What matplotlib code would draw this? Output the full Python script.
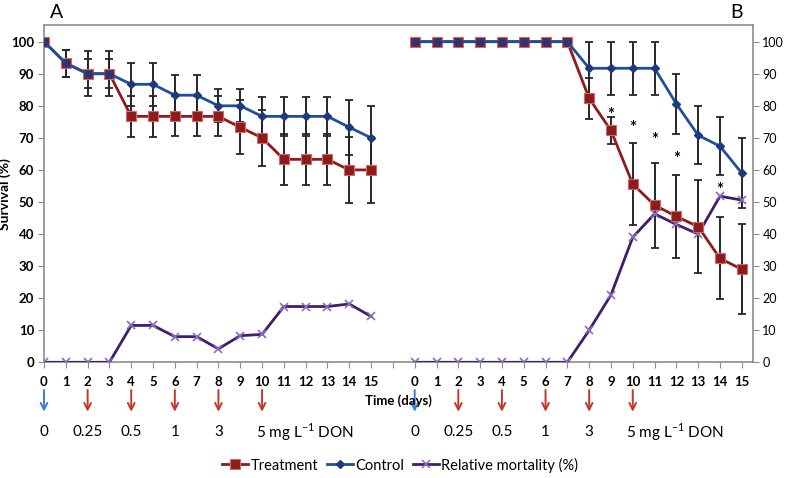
import numpy as np
import matplotlib
matplotlib.use('Agg')
import matplotlib.pyplot as plt

plt.rcParams['font.family'] = ['Lato', 'DejaVu Sans']

days = list(range(16))

# Panel A
treat_a = [100, 93.3, 90, 90, 76.7, 76.7, 76.7, 76.7, 76.7, 73.3, 70, 63.3, 63.3, 63.3, 60, 60]
treat_a_err = [0, 4.2, 7, 7, 6.3, 6.3, 6.2, 6.2, 6.2, 8.4, 8.8, 8, 8, 8, 10.3, 10.3]
ctrl_a = [100, 93.3, 90, 90, 86.7, 86.7, 83.3, 83.3, 80, 80, 76.7, 76.7, 76.7, 76.7, 73.3, 70]
ctrl_a_err = [0, 4.2, 4.5, 4.5, 6.7, 6.7, 6.2, 6.2, 5.2, 5.2, 6.1, 6.1, 6.1, 6.1, 8.5, 10]
mort_a = [0, 0, 0, 0, 11.5, 11.5, 8, 8, 4.2, 8.3, 8.7, 17.4, 17.4, 17.4, 18.2, 14.3]

# Panel B
treat_b = [100, 100, 100, 100, 100, 100, 100, 100, 82.3, 72.3, 55.6, 49, 45.5, 42.3, 32.4, 29]
treat_b_err = [0, 0, 0, 0, 0, 0, 0, 0, 6.3, 4.1, 12.7, 13.2, 12.9, 14.6, 12.8, 14]
ctrl_b = [100, 100, 100, 100, 100, 100, 100, 100, 91.7, 91.7, 91.7, 91.7, 80.6, 70.8, 67.4, 59]
ctrl_b_err = [0, 0, 0, 0, 0, 0, 0, 0, 8.3, 8.3, 8.3, 8.3, 9.3, 9, 9, 11]
mort_b = [0, 0, 0, 0, 0, 0, 0, 0, 10, 21, 39, 46.3, 43, 40, 51.8, 50.6]

star_days_b = [9, 10, 11, 12, 14]
star_y_b = [78.7, 74.7, 70.9, 65, 55.3]

dose_days = [0, 2, 4, 6, 8, 10]
dose_labels = ['0', '0.25', '0.5', '1', '3', '5 mg L$^{\\mathregular{-1}}$ DON']

offset_b = 17  # panel B starts after one blank category

def joined(a, b):
    return np.array(list(a) + [np.nan] + list(b), dtype=float)

x = np.arange(33)
treat = joined(treat_a, treat_b)
treat_err = joined(treat_a_err, treat_b_err)
ctrl = joined(ctrl_a, ctrl_b)
ctrl_err = joined(ctrl_a_err, ctrl_b_err)
mort = joined(mort_a, mort_b)

fig = plt.figure(figsize=(7.87, 4.78), dpi=100)
ax = fig.add_axes([44 / 787, 1 - 362.3 / 478, (752.7 - 44) / 787, (362.3 - 25) / 478])

ebar_kw = dict(fmt='none', ecolor='#262626', elinewidth=1.4, capsize=2.8, capthick=1.3, zorder=2)
ax.errorbar(x, treat, yerr=treat_err, **ebar_kw)
ax.errorbar(x, ctrl, yerr=ctrl_err, **ebar_kw)

ax.plot(x, mort, color='#3d1f6e', lw=2, marker='x', ms=6, mec='#8a6cc0', mew=1.2,
        label='Relative mortality (%)', zorder=3)
ax.plot(x, treat, color='#8e1b1b', lw=2, marker='s', ms=7, mfc='#8e1b1b', mec='#d06a6a', mew=0.8,
        label='Treatment', zorder=4)
ax.plot(x, ctrl, color='#1f4f9c', lw=2, marker='D', ms=4.5, mfc='#1d3a80', mec='#1d3a80',
        label='Control', zorder=5)

for d, yv in zip(star_days_b, star_y_b):
    ax.text(d + offset_b, yv - 1.5, '*', ha='center', va='center', fontsize=12, fontweight='bold')

ax.set_xlim(0, 32.5)
ax.set_ylim(0, 105.2)
ax.set_xticks(x)
ax.set_xticklabels([str(d) for d in days] + [''] + [str(d) for d in days],
                   fontsize=9.5, fontweight='bold')
ax.set_yticks(range(0, 101, 10))
ax.tick_params(axis='y', labelsize=9.5, length=4, color='#8c8c8c', pad=3)
ax.tick_params(axis='x', length=4, color='#8c8c8c', pad=6)
for lab in ax.get_yticklabels():
    lab.set_fontweight('bold')
for sp in ax.spines.values():
    sp.set_color('#8c8c8c')
    sp.set_linewidth(1.2)

ax2 = ax.twinx()
ax2.set_ylim(ax.get_ylim())
ax2.set_yticks(range(0, 101, 10))
ax2.tick_params(axis='y', labelsize=9, length=4, color='#8c8c8c', pad=3)
for sp in ax2.spines.values():
    sp.set_visible(False)

ax.set_ylabel('Survival (%)', fontsize=10, fontweight='bold')
ax.yaxis.set_label_coords(-0.046, 0.5)

trans = ax.get_xaxis_transform()
ax.text(16.25, -0.113, 'Time (days)', transform=trans, ha='center', va='center',
        fontsize=9.5, fontweight='bold', zorder=6)

for start in (0, offset_b):
    for d, lab in zip(dose_days, dose_labels):
        col = '#3a7fd0' if d == 0 else '#c0392b'
        ax.annotate('', xy=(start + d, -0.155), xytext=(start + d, -0.074),
                    xycoords=trans, textcoords=trans,
                    arrowprops=dict(arrowstyle='->', color=col, lw=1.4, mutation_scale=12))
        if d == 10:
            ax.text(start + d - 0.3, -0.207, lab, transform=trans, ha='left', va='center', fontsize=11)
        else:
            ax.text(start + d, -0.207, lab, transform=trans, ha='center', va='center', fontsize=11)

handles, labels = ax.get_legend_handles_labels()
order = [1, 2, 0]
fig.legend([handles[i] for i in order], [labels[i] for i in order], loc='center',
           bbox_to_anchor=(400 / 787, 1 - 465 / 478), ncol=3, frameon=False, fontsize=10.5,
           handlelength=1.8, handletextpad=0.15, columnspacing=0.6)

fig.text(57 / 787, 1 - 13 / 478, 'A', fontsize=14, ha='center', va='center')
fig.text(737 / 787, 1 - 13 / 478, 'B', fontsize=14, ha='center', va='center')

fig.savefig('out.png', dpi=100)
